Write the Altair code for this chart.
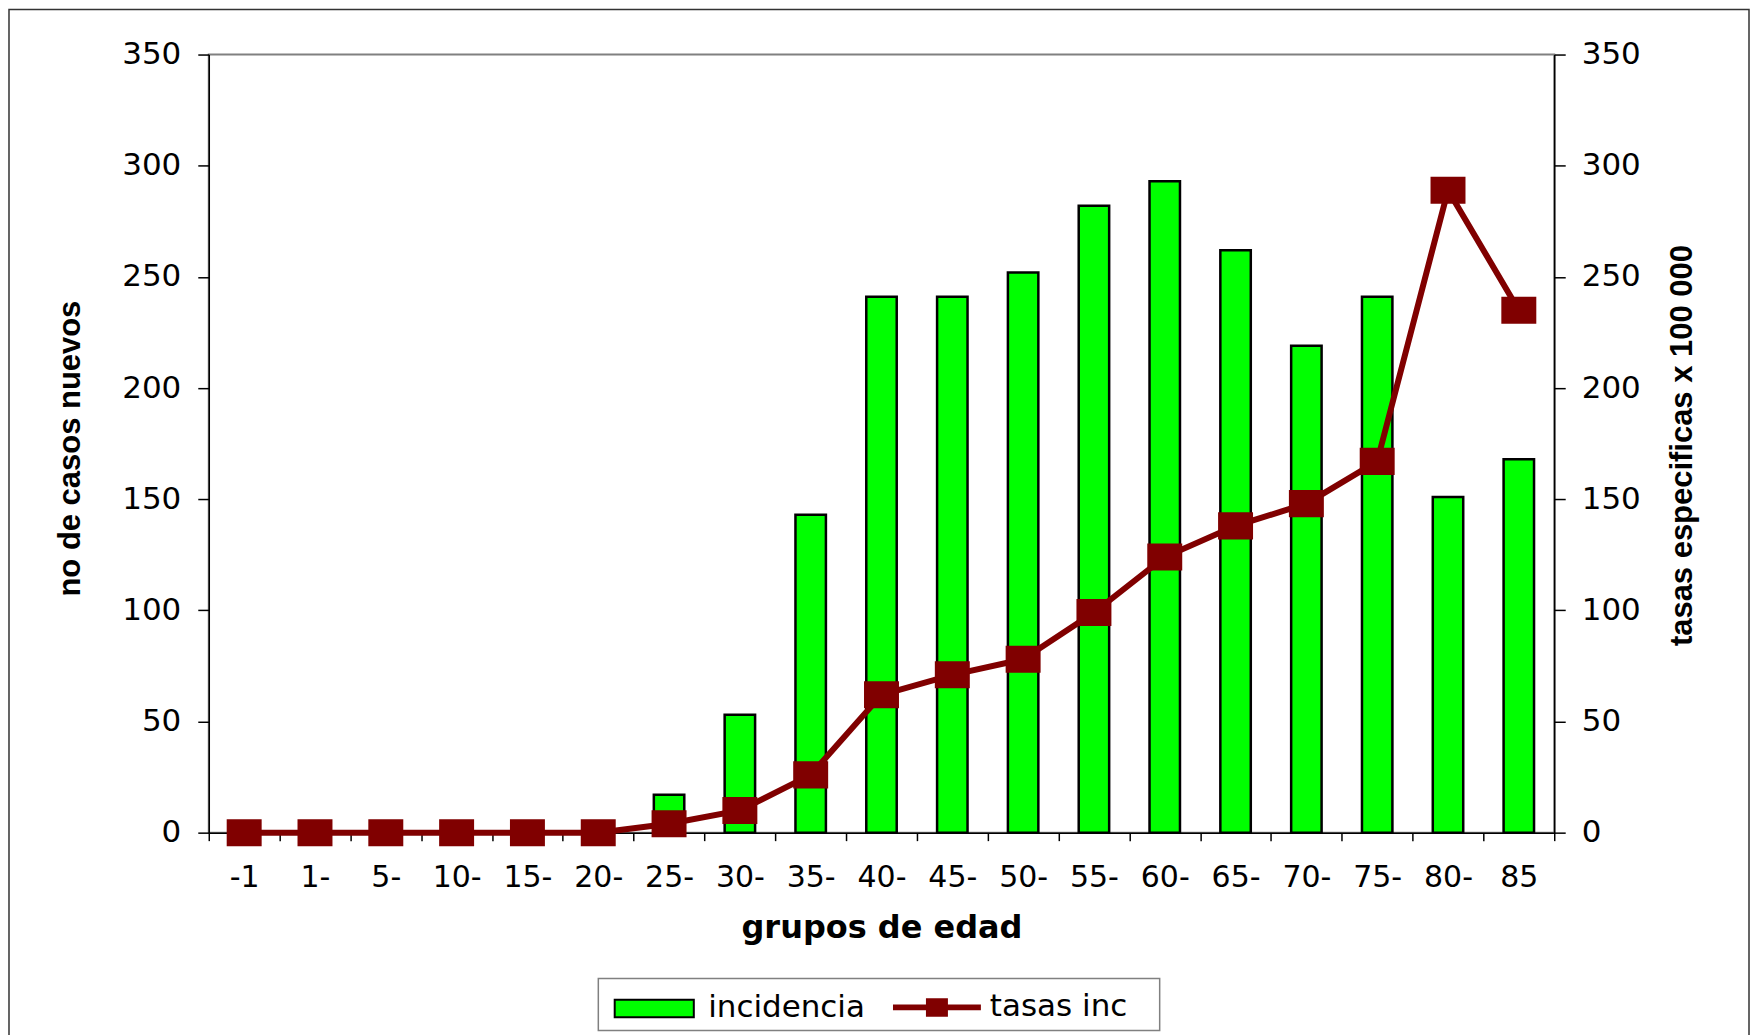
import altair as alt
import pandas as pd

groups = ["-1", "1-", "5-", "10-", "15-", "20-", "25-", "30-", "35-", "40-",
          "45-", "50-", "55-", "60-", "65-", "70-", "75-", "80-", "85"]
incidencia = [0, 0, 0, 0, 0, 0, 17, 53, 143, 241, 241, 252, 282, 293, 262, 219, 241, 151, 168]
tasas = [0, 0, 0, 0, 0, 0, 4, 10, 26, 62, 71, 78, 99, 124, 138, 148, 167, 289, 235]
y_ticks = [0, 50, 100, 150, 200, 250, 300, 350]
series = ["incidencia", "tasas inc"]

GREEN = "#00FF00"
MAROON = "#800000"

df = pd.DataFrame({"grupo": groups, "incidencia": incidencia, "tasas": tasas})
df["s_bar"] = series[0]
df["s_line"] = series[1]

W, H = 1347, 779

x_enc = alt.X(
    "grupo:N", sort=groups,
    scale=alt.Scale(paddingInner=0, paddingOuter=0),
    axis=alt.Axis(
        title="grupos de edad", labelAngle=0, labelFont="DejaVu Sans", labelFontSize=30,
        labelColor="black", labelPadding=22, tickSize=8, tickBand="extent",
        tickColor="black", domainColor="black", domainWidth=1.5, tickWidth=1.5,
        titleFont="DejaVu Sans", titleFontSize=32, titleFontWeight="bold",
        titleY=105, titleBaseline="alphabetic", titleColor="black",
    ),
)

y_scale = alt.Scale(domain=[0, 350], nice=False, zero=True)

left_axis = alt.Axis(
    title="no de casos nuevos", values=y_ticks, labelFont="DejaVu Sans", labelFontSize=31,
    labelColor="black", labelPadding=17, tickSize=11, tickColor="black", tickWidth=1.5,
    domainColor="black", domainWidth=1.5, grid=False,
    titleFont="Liberation Sans", titleFontSize=31, titleFontWeight="bold", titleColor="black",
    titleAngle=270, titleX=-129, titleY=394, titleBaseline="alphabetic", titleAlign="center",
)
right_axis = alt.Axis(
    title="tasas especificas x 100 000", orient="right", values=y_ticks,
    labelFont="DejaVu Sans", labelFontSize=31, labelColor="black", labelPadding=16,
    tickSize=11, tickColor="black", tickWidth=1.5, domainColor="black", domainWidth=1.5,
    grid=False,
    titleFont="Liberation Sans", titleFontSize=31, titleFontWeight="bold", titleColor="black",
    titleAngle=270, titleX=137, titleY=391, titleBaseline="alphabetic", titleAlign="center",
)

legend_common = dict(
    title=None, orient="none", direction="horizontal", padding=0,
    symbolSize=7744, labelFont="DejaVu Sans", labelFontSize=31, labelColor="black",
    labelOffset=9,
)
legend_bar = alt.Legend(
    legendX=401, legendY=910,
    symbolType="M-0.9,-0.2H0.9V0.2H-0.9Z", symbolStrokeColor="black", symbolStrokeWidth=2,
    symbolOpacity=1, **legend_common,
)
legend_line = alt.Legend(
    legendX=685, legendY=910,
    symbolType="M-1,-0.065H1V0.065H-1Z M-0.25,-0.21H0.25V0.21H-0.25Z",
    symbolFillColor=MAROON, symbolStrokeWidth=0, symbolOpacity=1, **legend_common,
)

# decorative chart frame and legend box
frame = alt.Chart(pd.DataFrame({"k": [0]})).mark_rect(
    fillOpacity=0, stroke="#333333", strokeWidth=1.5
).encode(
    x=alt.value(-200), x2=alt.value(1542), y=alt.value(-45), y2=alt.value(1000)
)
legend_box = alt.Chart(pd.DataFrame({"k": [0]})).mark_rect(
    fill="white", stroke="#808080", strokeWidth=1.5
).encode(
    x=alt.value(390), x2=alt.value(952), y=alt.value(925), y2=alt.value(977)
)

bars = alt.Chart(df).mark_bar(
    stroke="black", strokeWidth=2.5, width=alt.RelativeBandSize(0.43)
).encode(
    x=x_enc,
    y=alt.Y("incidencia:Q", scale=y_scale, axis=left_axis),
    fill=alt.Fill("s_bar:N", scale=alt.Scale(domain=[series[0]], range=[GREEN]), legend=legend_bar),
)

line = alt.Chart(df).mark_line(
    strokeWidth=6,
    point=alt.OverlayMarkDef(filled=True, fill=MAROON, shape="M-1,-0.76H1V0.76H-1Z",
                             size=1089, opacity=1),
).encode(
    x=x_enc,
    y=alt.Y("tasas:Q", scale=y_scale, axis=right_axis),
    stroke=alt.Stroke("s_line:N", scale=alt.Scale(domain=[series[1]], range=[MAROON]),
                      legend=legend_line),
)

chart = alt.layer(alt.layer(frame, legend_box, bars), line).resolve_scale(y="independent").properties(
    width=W, height=H, padding=0, background="white"
).configure_view(stroke="#808080", strokeWidth=2)

chart.save("out.html", embed_options={"renderer": "svg", "actions": False})
